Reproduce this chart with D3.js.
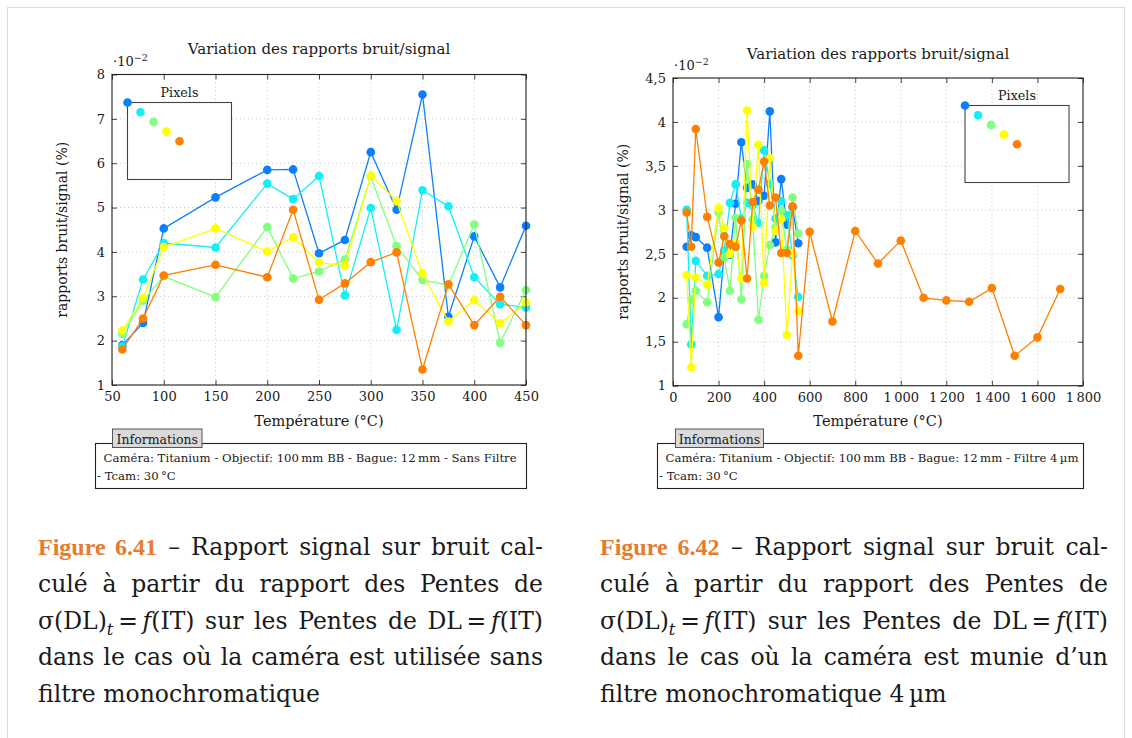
<!DOCTYPE html>
<html>
<head>
<meta charset="utf-8">
<script src="https://cdn.jsdelivr.net/npm/d3@7"></script>
<style>
  body { margin: 0; background: #fff; }
  #page { position: relative; width: 1132px; height: 738px; overflow: hidden; }
  svg { position: absolute; left: 0; top: 0; }
  svg text { font-family: "DejaVu Serif", serif; fill: #1a1a1a; }
  .cap { position: absolute; font-family: "DejaVu Serif", serif; font-size: 23.5px;
         line-height: 36.8px; color: #1a1a1a; }
  .cap .ln { text-align: justify; text-align-last: justify; white-space: nowrap; }
  .cap .ln.last { text-align: left; text-align-last: left; }
  .cap .fig { color: #e87a2e; font-weight: bold; font-family: "Liberation Serif", serif; font-size: 24px; }
  .cap sub { font-size: 0.7em; line-height: 0; vertical-align: -0.35em; }
</style>
</head>
<body>
<div id="page"></div>
<script>
// ---- Panel A : sans filtre ----
const tempsA   = [60, 80, 100, 150, 200, 225, 250, 275, 300, 325, 350, 375, 400, 425, 450];
const bleuA    = [1.90, 2.40, 4.53, 5.23, 5.85, 5.86, 3.97, 4.27, 6.25, 4.95, 7.55, 2.54, 4.35, 3.20, 4.59];
const cyanA    = [1.87, 3.38, 4.20, 4.10, 5.54, 5.19, 5.71, 3.02, 4.99, 2.24, 5.39, 5.03, 3.43, 2.82, 2.75];
const vertA    = [2.15, 2.90, 3.45, 2.98, 4.56, 3.40, 3.56, 3.83, 5.70, 4.13, 3.37, 3.25, 4.62, 1.95, 3.14];
const jauneA   = [2.23, 2.96, 4.11, 4.53, 4.01, 4.33, 3.76, 3.69, 5.72, 5.15, 3.51, 2.43, 2.91, 2.39, 2.86];
const orangeA  = [1.80, 2.50, 3.47, 3.71, 3.43, 4.95, 2.92, 3.29, 3.77, 3.99, 1.35, 3.27, 2.35, 2.99, 2.35];
const ticksXA  = [50, 100, 150, 200, 250, 300, 350, 400, 450];
const ticksYA  = [1, 2, 3, 4, 5, 6, 7, 8];

// ---- Panel B : filtre 4 µm ----
const tempsB   = [60, 80, 100, 150, 200, 225, 250, 275, 300, 325, 350, 375, 400, 425, 450, 475, 500, 525, 550];
const bleuB    = [2.58, 2.71, 2.69, 2.57, 1.78, 2.52, 2.49, 3.07, 3.77, 3.25, 3.29, 3.10, 3.16, 4.12, 2.63, 3.35, 2.83, 3.03, 2.62];
const cyanB    = [3.00, 1.47, 2.42, 2.25, 2.27, 2.54, 3.08, 3.29, 2.90, 3.08, 3.05, 2.85, 3.68, 3.30, 2.90, 3.10, 2.94, 2.48, 2.01];
const vertB    = [1.70, 1.98, 2.08, 1.95, 2.97, 2.46, 2.08, 2.91, 1.98, 3.52, 2.89, 1.75, 2.25, 2.60, 2.80, 2.99, 2.55, 3.14, 2.73];
const jauneB   = [2.26, 1.21, 2.23, 2.15, 3.02, 2.79, 2.50, 2.62, 2.22, 4.13, 2.81, 3.74, 2.17, 3.59, 2.76, 2.90, 1.58, 2.51, 1.85];
const tempsBOrange = [60, 80, 100, 150, 200, 225, 250, 275, 300, 325, 350, 375, 400, 425, 450, 475, 500, 525, 550,
                      600, 700, 800, 900, 1000, 1100, 1200, 1300, 1400, 1500, 1600, 1700];
const orangeB  = [2.97, 2.58, 3.92, 2.92, 2.40, 2.70, 2.61, 2.58, 2.88, 2.22, 3.09, 3.23, 3.55, 3.05, 3.14, 2.51, 2.51, 3.04, 1.34,
                  2.75, 1.73, 2.76, 2.39, 2.65, 2.00, 1.97, 1.955, 2.11, 1.34, 1.55, 2.10];
const ticksXB  = [0, 200, 400, 600, 800, 1000, 1200, 1400, 1600, 1800];
const ticksYB  = [1, 1.5, 2, 2.5, 3, 3.5, 4, 4.5];

const couleurs = ["#0a80ff", "#12f0f5", "#80ff80", "#ffff00", "#ff8000"];

const titre = "Variation des rapports bruit/signal";
const labelY = "rapports bruit/signal (%)";
const labelX = "Température (°C)";

const page = d3.select("#page");
const svg = page.append("svg").attr("width", 1132).attr("height", 738);

// light frame around the page
svg.append("rect").attr("x", 7.5).attr("y", 7.5).attr("width", 1117).attr("height", 745)
  .attr("fill", "none").attr("stroke", "#dcdcdc");

// thousands with a thin space, decimals with a comma
const fmtX = d => d >= 1000 ? String(d).replace(/(\d)(\d{3})$/, "$1\u2009$2") : String(d);

function panel(cfg) {
  const x = d3.scaleLinear().domain(cfg.xDom).range([cfg.left, cfg.right]);
  const y = d3.scaleLinear().domain(cfg.yDom).range([cfg.bottom, cfg.top]);
  const g = svg.append("g");

  // dotted grid
  g.append("g").selectAll("line").data(cfg.ticksX).join("line")
    .attr("x1", d => x(d)).attr("x2", d => x(d))
    .attr("y1", cfg.top).attr("y2", cfg.bottom)
    .attr("stroke", "#c8c8c8").attr("stroke-dasharray", "1,3");
  g.append("g").selectAll("line").data(cfg.ticksY).join("line")
    .attr("y1", d => y(d)).attr("y2", d => y(d))
    .attr("x1", cfg.left).attr("x2", cfg.right)
    .attr("stroke", "#c8c8c8").attr("stroke-dasharray", "1,3");

  // axes with inward ticks on all four sides
  const fmtY = cfg.fmtY || (d => String(d));
  const ax = [
    g.append("g").attr("transform", `translate(0,${cfg.bottom})`)
      .call(d3.axisBottom(x).tickValues(cfg.ticksX).tickSize(-5).tickPadding(7).tickFormat(fmtX)),
    g.append("g").attr("transform", `translate(${cfg.left},0)`)
      .call(d3.axisLeft(y).tickValues(cfg.ticksY).tickSize(-5).tickPadding(7).tickFormat(fmtY)),
    g.append("g").attr("transform", `translate(0,${cfg.top})`)
      .call(d3.axisTop(x).tickValues(cfg.ticksX).tickSize(-5).tickFormat("")),
    g.append("g").attr("transform", `translate(${cfg.right},0)`)
      .call(d3.axisRight(y).tickValues(cfg.ticksY).tickSize(-5).tickFormat(""))
  ];
  ax.forEach(a => {
    a.select(".domain").remove();
    a.selectAll(".tick line").attr("stroke", "#444");
    a.selectAll("text").attr("font-size", 13).attr("font-family", "DejaVu Serif, serif").attr("fill", "#1a1a1a");
  });

  // series: line then markers, drawn in order so the last one is on top
  cfg.series.forEach((s, i) => {
    const pts = s.x.map((t, k) => [t, s.y[k]]);
    g.append("path").datum(pts)
      .attr("fill", "none").attr("stroke", couleurs[i]).attr("stroke-width", 1.3)
      .attr("d", d3.line().x(d => x(d[0])).y(d => y(d[1])));
    g.append("g").selectAll("circle").data(pts).join("circle")
      .attr("cx", d => x(d[0])).attr("cy", d => y(d[1])).attr("r", 4.3)
      .attr("fill", couleurs[i]);
  });

  // frame
  g.append("rect").attr("x", cfg.left).attr("y", cfg.top)
    .attr("width", cfg.right - cfg.left).attr("height", cfg.bottom - cfg.top)
    .attr("fill", "none").attr("stroke", "#222").attr("stroke-width", 1.1);

  // scale factor label
  const sf = g.append("text").attr("x", cfg.left + 1).attr("y", cfg.top - 8.5).attr("font-size", 13);
  sf.append("tspan").text("·10");
  sf.append("tspan").attr("dy", -5).attr("font-size", 9.5).text("−2");

  // title and axis labels
  g.append("text").attr("x", (cfg.left + cfg.right) / 2).attr("y", cfg.titleY)
    .attr("text-anchor", "middle").attr("font-size", 15).text(titre);
  g.append("text").attr("x", (cfg.left + cfg.right) / 2).attr("y", 426)
    .attr("text-anchor", "middle").attr("font-size", 14.5).text(labelX);
  g.append("text").attr("transform", `translate(${cfg.left - 45},${(cfg.top + cfg.bottom) / 2}) rotate(-90)`)
    .attr("text-anchor", "middle").attr("font-size", 14).text(labelY);

  // legend box with diagonal markers
  const L = cfg.legend;
  g.append("rect").attr("x", L.x).attr("y", L.y).attr("width", 104).attr("height", 77)
    .attr("fill", "#fff").attr("stroke", "#444").attr("stroke-width", 1.1);
  g.append("text").attr("x", L.x + 52).attr("y", L.y - 6).attr("text-anchor", "middle")
    .attr("font-size", 12.7).text("Pixels");
  couleurs.forEach((c, i) => {
    g.append("circle").attr("cx", L.x + i * 13).attr("cy", L.y + i * 9.7).attr("r", 4.3).attr("fill", c);
  });

  // information box
  const I = cfg.info;
  g.append("rect").attr("x", I.x).attr("y", 443.5).attr("width", I.w).attr("height", 45)
    .attr("fill", "#fff").attr("stroke", "#222").attr("stroke-width", 1.1);
  g.append("rect").attr("x", I.tabX).attr("y", 429).attr("width", I.tabW).attr("height", 18.5)
    .attr("fill", "#dadada").attr("stroke", "#555").attr("stroke-width", 1);
  g.append("text").attr("x", I.tabX + I.tabW / 2).attr("y", 443.5).attr("text-anchor", "middle")
    .attr("font-size", 12.5).attr("fill", "#505050").text("Informations");
  g.append("text").attr("x", I.x + 8).attr("y", 462).attr("font-size", 11.7).text(I.l1);
  g.append("text").attr("x", I.x + 1.5).attr("y", 480).attr("font-size", 11.7).text(I.l2);
}

panel({
  xDom: [50, 450], yDom: [1, 8], left: 112, right: 526, top: 74.5, bottom: 385,
  ticksX: ticksXA, ticksY: ticksYA, titleY: 54,
  series: [
    { x: tempsA, y: bleuA }, { x: tempsA, y: cyanA }, { x: tempsA, y: vertA },
    { x: tempsA, y: jauneA }, { x: tempsA, y: orangeA }
  ],
  legend: { x: 127.5, y: 102.5 },
  info: { x: 95.5, w: 431, tabX: 112.5, tabW: 89.5,
          l1: "Caméra: Titanium - Objectif: 100\u2009mm BB - Bague: 12\u2009mm - Sans Filtre",
          l2: "- Tcam: 30\u2009°C" }
});

panel({
  xDom: [0, 1800], yDom: [1, 4.5], left: 673, right: 1083, top: 78, bottom: 385.7,
  ticksX: ticksXB, ticksY: ticksYB, titleY: 59,
  fmtY: d => String(d).replace(".", ","),
  series: [
    { x: tempsB, y: bleuB }, { x: tempsB, y: cyanB }, { x: tempsB, y: vertB },
    { x: tempsB, y: jauneB }, { x: tempsBOrange, y: orangeB }
  ],
  legend: { x: 965, y: 105.5 },
  info: { x: 657.5, w: 426, tabX: 675.5, tabW: 88,
          l1: "Caméra: Titanium - Objectif: 100\u2009mm BB - Bague: 12\u2009mm - Filtre 4\u2009µm",
          l2: "- Tcam: 30\u2009°C" }
});

// figure captions
const eqLine = "σ(DL)<sub><i>t</i></sub>\u2009=\u2009<i>f</i>(IT) sur les Pentes de DL\u2009=\u2009<i>f</i>(IT)";
const captions = [
  { left: 38, width: 505, lines: [
      '<span class="fig">Figure 6.41</span> – Rapport signal sur bruit cal-',
      "culé à partir du rapport des Pentes de",
      eqLine,
      "dans le cas où la caméra est utilisée sans",
      "filtre monochromatique"] },
  { left: 600, width: 508, lines: [
      '<span class="fig">Figure 6.42</span> – Rapport signal sur bruit cal-',
      "culé à partir du rapport des Pentes de",
      eqLine,
      "dans le cas où la caméra est munie d’un",
      "filtre monochromatique 4\u2009µm"] }
];
captions.forEach(c => {
  const box = page.append("div").attr("class", "cap")
    .style("left", c.left + "px").style("top", "529px").style("width", c.width + "px");
  c.lines.forEach((l, i) => {
    box.append("div").attr("class", "ln" + (i === c.lines.length - 1 ? " last" : "")).html(l);
  });
});
</script>
</body>
</html>
